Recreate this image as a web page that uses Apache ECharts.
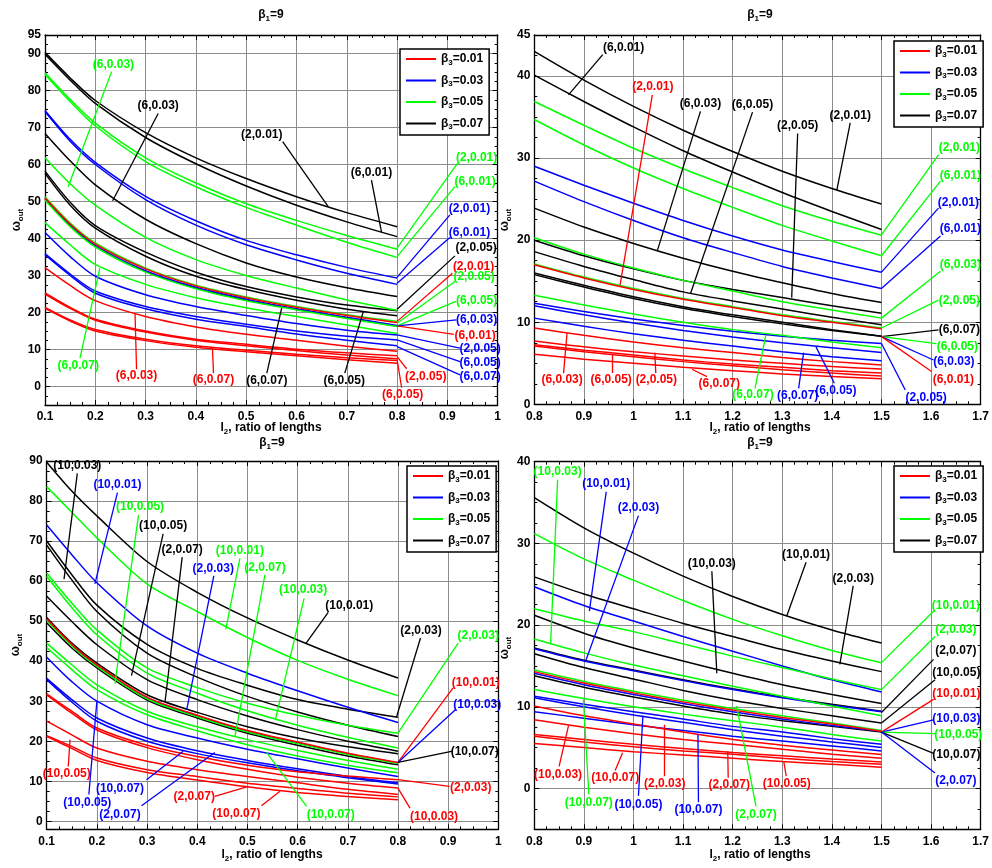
<!DOCTYPE html>
<html><head><meta charset="utf-8">
<script src="https://cdn.jsdelivr.net/npm/echarts@6/dist/echarts.min.js"></script>
<style>html,body{margin:0;padding:0;background:#fff}#c{width:992px;height:868px}</style>
</head><body><div id="c"></div>
<script>
// ---------------- DATA ----------------
const P1_X = [0.1, 0.15, 0.2, 0.3, 0.4, 0.5, 0.6, 0.7, 0.8];
const P1_BLACK = [
  [90.3, 83.4, 77.3, 68.6, 61.8, 56.2, 51.3, 47.0, 43.2],
  [89.8, 82.8, 76.5, 67.3, 60.2, 54.2, 49.0, 44.5, 40.5],
  [68.4, 61.0, 54.5, 45.2, 38.6, 33.4, 29.6, 26.7, 24.3],
  [58.2, 49.8, 43.5, 36.3, 30.9, 27.0, 24.2, 22.0, 20.5],
  [57.6, 49.0, 42.8, 35.2, 29.8, 26.2, 23.3, 20.9, 19.1],
  [50.6, 43.4, 37.9, 31.1, 26.6, 23.4, 20.9, 18.6, 16.3]
];
const P1_GREEN = [
  [84.8, 77.6, 71.2, 61.8, 55.0, 49.4, 44.9, 40.8, 37.1],
  [84.3, 77.0, 70.4, 60.8, 54.0, 48.4, 43.6, 39.0, 34.9],
  [61.8, 54.8, 49.0, 40.3, 34.3, 30.0, 26.6, 23.4, 20.6],
  [51.3, 44.2, 38.8, 32.0, 27.4, 24.2, 21.6, 19.4, 17.6],
  [50.4, 43.2, 37.7, 30.9, 26.4, 23.2, 20.7, 18.4, 16.2],
  [44.3, 38.3, 33.0, 27.6, 24.0, 21.3, 18.9, 16.6, 14.3]
];
const P1_BLUE = [
  [74.6, 66.8, 60.6, 51.4, 44.8, 39.5, 35.6, 32.2, 29.3],
  [74.3, 66.3, 60.0, 50.5, 43.6, 38.3, 34.2, 30.6, 27.6],
  [50.8, 43.6, 38.1, 31.3, 26.8, 23.6, 21.0, 18.7, 16.5],
  [41.6, 35.1, 29.8, 24.8, 21.6, 19.2, 17.0, 15.2, 13.9],
  [35.9, 30.4, 25.8, 21.6, 18.9, 16.8, 15.0, 13.6, 12.6],
  [35.6, 30.0, 25.2, 21.0, 18.2, 16.2, 14.2, 12.5, 11.0]
];
const P1_RED = [
  [51.0, 43.9, 38.5, 31.8, 27.2, 24.0, 21.4, 19.2, 17.3],
  [32.1, 27.3, 23.2, 18.9, 16.1, 14.1, 12.5, 10.9, 9.5],
  [25.3, 21.4, 18.2, 15.0, 12.8, 11.4, 10.1, 9.1, 8.3],
  [25.0, 21.1, 17.9, 14.7, 12.5, 11.0, 9.7, 8.5, 7.5],
  [21.4, 18.0, 15.4, 12.8, 11.0, 9.8, 8.7, 7.8, 7.0],
  [21.1, 17.7, 15.0, 12.4, 10.6, 9.4, 8.3, 7.2, 6.3]
];
const P2_X = [0.8, 0.9, 1.0, 1.1, 1.2, 1.3, 1.4, 1.5];
const P2_BLACK = [
  [43.0, 39.5, 36.3, 33.4, 30.8, 28.4, 26.3, 24.4],
  [40.1, 36.9, 33.8, 30.9, 28.3, 25.8, 23.5, 21.3],
  [23.9, 21.6, 19.6, 17.8, 16.2, 14.8, 13.5, 12.4],
  [20.0, 18.1, 16.5, 15.1, 14.0, 13.0, 12.0, 11.1],
  [18.6, 16.8, 15.2, 13.7, 12.6, 11.6, 10.6, 9.7],
  [16.0, 14.5, 13.1, 11.9, 10.9, 10.0, 9.1, 8.3],
  [15.8, 14.3, 12.9, 11.7, 10.7, 9.8, 9.0, 8.3]
];
const P2_GREEN = [
  [36.9, 34.0, 31.2, 28.7, 26.4, 24.2, 22.3, 20.6],
  [34.7, 31.6, 28.8, 26.3, 24.0, 21.8, 19.9, 18.1],
  [20.3, 18.3, 16.6, 15.1, 13.8, 12.5, 11.5, 10.5],
  [17.1, 15.5, 14.1, 12.9, 11.9, 10.9, 10.1, 9.3],
  [13.3, 12.1, 11.0, 10.0, 9.1, 8.4, 7.6, 6.9]
];
const P2_BLUE = [
  [29.0, 26.7, 24.5, 22.4, 20.5, 18.8, 17.4, 16.1],
  [27.2, 24.7, 22.4, 20.3, 18.5, 16.8, 15.4, 14.1],
  [12.3, 11.3, 10.4, 9.6, 8.9, 8.3, 7.8, 7.4],
  [12.0, 10.9, 9.9, 9.0, 8.2, 7.5, 6.9, 6.3],
  [10.5, 9.5, 8.6, 7.8, 7.1, 6.4, 5.8, 5.3]
];
const P2_RED = [
  [17.0, 15.4, 14.0, 12.8, 11.8, 10.8, 10.0, 9.2],
  [9.3, 8.4, 7.6, 6.9, 6.3, 5.7, 5.2, 4.8],
  [7.7, 7.0, 6.4, 5.9, 5.4, 5.0, 4.6, 4.3],
  [7.25, 6.6, 6.0, 5.4, 4.9, 4.5, 4.1, 3.8],
  [7.1, 6.4, 5.8, 5.2, 4.7, 4.2, 3.8, 3.45],
  [6.1, 5.5, 5.0, 4.5, 4.1, 3.7, 3.4, 3.1]
];
const P3_X = [0.1, 0.15, 0.2, 0.3, 0.4, 0.5, 0.6, 0.7, 0.8];
const P3_BLACK = [
  [89.7, 82.5, 76.3, 64.9, 57.2, 50.8, 45.3, 40.3, 35.8],
  [70.0, 61.6, 54.0, 44.2, 38.2, 34.0, 30.4, 28.0, 26.0],
  [69.0, 60.3, 52.4, 42.0, 36.0, 31.2, 27.3, 24.0, 21.2],
  [56.2, 49.9, 44.1, 35.4, 30.4, 26.3, 22.9, 20.0, 17.5],
  [50.9, 44.5, 39.5, 31.6, 27.2, 23.6, 20.8, 18.6, 16.9],
  [49.6, 43.3, 38.3, 30.3, 25.8, 22.0, 19.0, 16.3, 14.1]
];
const P3_GREEN = [
  [83.6, 77.2, 70.8, 59.3, 52.4, 45.9, 40.2, 35.5, 31.4],
  [62.0, 54.5, 47.8, 38.3, 33.4, 29.5, 26.5, 24.0, 22.0],
  [61.2, 53.4, 46.6, 37.0, 32.0, 27.6, 24.0, 21.0, 18.3],
  [50.2, 43.8, 38.7, 30.6, 26.1, 22.3, 19.4, 16.7, 14.5],
  [44.5, 39.1, 34.1, 27.5, 23.6, 20.4, 17.7, 15.2, 13.0],
  [43.4, 37.9, 32.9, 26.6, 22.6, 19.1, 16.3, 14.0, 12.1]
];
const P3_BLUE = [
  [74.0, 66.6, 59.6, 48.8, 42.0, 37.0, 32.6, 28.5, 24.7],
  [50.4, 44.0, 38.9, 30.8, 26.3, 22.5, 19.6, 16.9, 14.6],
  [41.0, 34.9, 30.0, 24.1, 20.8, 18.0, 15.6, 13.3, 11.2],
  [35.7, 30.4, 25.8, 20.8, 17.6, 15.2, 13.1, 11.2, 9.6],
  [35.4, 29.8, 25.0, 20.0, 16.9, 14.6, 12.6, 10.9, 9.3]
];
const P3_RED = [
  [50.6, 44.2, 39.1, 31.0, 26.5, 22.7, 19.8, 17.0, 14.7],
  [31.8, 27.5, 23.3, 19.0, 16.2, 14.0, 12.4, 11.3, 10.4],
  [31.6, 27.0, 22.8, 18.4, 15.4, 13.0, 11.0, 9.5, 8.3],
  [25.0, 21.6, 18.3, 15.0, 12.9, 11.2, 9.6, 8.0, 6.7],
  [21.4, 18.7, 15.8, 12.9, 11.2, 9.5, 8.2, 7.0, 6.1],
  [21.2, 18.2, 15.2, 12.2, 10.3, 8.6, 7.2, 6.2, 5.4]
];
const P4_X = [0.8, 0.9, 1.0, 1.1, 1.2, 1.3, 1.4, 1.5];
const P4_BLACK = [
  [35.6, 31.9, 28.8, 26.0, 23.5, 21.3, 19.4, 17.8],
  [25.9, 23.8, 22.0, 20.2, 18.6, 17.0, 15.6, 14.3],
  [21.2, 19.0, 17.2, 15.6, 14.1, 12.7, 11.5, 10.4],
  [17.2, 15.7, 14.5, 13.3, 12.2, 11.2, 10.3, 9.45],
  [16.5, 14.8, 13.4, 12.0, 10.8, 9.8, 8.9, 8.0],
  [13.8, 12.4, 11.2, 10.1, 9.1, 8.3, 7.6, 6.9]
];
const P4_GREEN = [
  [31.2, 28.1, 25.5, 23.0, 20.7, 18.7, 16.9, 15.4],
  [22.0, 20.5, 19.2, 17.7, 16.2, 14.8, 13.4, 12.1],
  [18.3, 16.6, 15.1, 13.8, 12.5, 11.3, 10.1, 8.9],
  [14.5, 13.1, 11.9, 10.8, 9.8, 8.9, 8.0, 7.1],
  [12.1, 11.0, 10.0, 9.1, 8.3, 7.5, 6.6, 5.8]
];
const P4_BLUE = [
  [24.7, 22.4, 20.5, 18.6, 16.8, 15.0, 13.3, 11.8],
  [17.1, 15.6, 14.4, 13.2, 12.1, 11.1, 10.2, 9.4],
  [14.1, 12.7, 11.5, 10.4, 9.4, 8.5, 7.7, 7.0],
  [11.3, 10.3, 9.4, 8.5, 7.6, 6.9, 6.1, 5.4],
  [11.1, 10.0, 9.0, 8.1, 7.2, 6.4, 5.7, 5.0],
  [9.4, 8.6, 7.8, 7.1, 6.4, 5.8, 5.2, 4.6]
];
const P4_RED = [
  [14.3, 12.9, 11.7, 10.6, 9.6, 8.7, 7.9, 7.0],
  [10.1, 8.9, 7.9, 6.9, 6.0, 5.3, 4.7, 4.15],
  [8.4, 7.5, 6.7, 6.0, 5.4, 4.8, 4.2, 3.7],
  [6.6, 6.0, 5.4, 4.9, 4.4, 4.0, 3.6, 3.25],
  [6.4, 5.7, 5.1, 4.6, 4.2, 3.7, 3.3, 2.95],
  [5.5, 5.0, 4.5, 4.1, 3.7, 3.3, 2.95, 2.6]
];

// annotations: [text, color, labelX, labelY, leaderX1, leaderY1, leaderX2, leaderY2]
const P1_NOTES = [
  ['(6,0.03)','g',0.236,86.9,0.2325,85.1,0.146,54.0],
  ['(6,0.03)','k',0.325,75.8,0.325,73.8,0.2345,50.2],
  ['(2,0.01)','k',0.531,68.0,0.5725,66.2,0.663,48.6],
  ['(6,0.01)','k',0.749,57.8,0.749,55.8,0.769,41.7],
  ['(6,0.07)','g',0.166,5.6,0.1696,7.65,0.209,32.0],
  ['(6,0.03)','r',0.282,2.9,0.282,4.7,0.279,19.8],
  ['(6,0.07)','r',0.435,1.8,0.435,3.6,0.433,10.1],
  ['(6,0.07)','k',0.541,1.5,0.541,3.6,0.5705,21.2],
  ['(6,0.05)','k',0.695,1.5,0.696,3.6,0.733,20.3],
  ['(2,0.05)','r',0.857,2.7,0.819,4.8,0.8,8.1],
  ['(6,0.05)','r',0.811,-2.1,0.809,-0.3,0.8,7.3],
  ['(2,0.01)','g',0.958,61.9,0.92,60.3,0.8,37.4],
  ['(6,0.01)','g',0.955,55.4,0.915,54.0,0.8,35.1],
  ['(2,0.01)','b',0.944,48.0,0.905,46.4,0.8,29.5],
  ['(6,0.01)','b',0.944,41.7,0.905,40.3,0.8,27.9],
  ['(2,0.05)','k',0.957,37.6,0.915,35.3,0.8,20.9],
  ['(2,0.01)','r',0.952,32.4,0.91,30.6,0.8,17.6],
  ['(2,0.05)','g',0.953,29.7,0.915,28.4,0.8,17.1],
  ['(6,0.05)','g',0.958,23.1,0.917,23.0,0.8,16.4],
  ['(6,0.03)','b',0.958,18.0,0.918,18.0,0.8,16.4],
  ['(6,0.01)','r',0.955,13.8,0.913,14.1,0.8,16.4],
  ['(2,0.05)','b',0.965,10.1,0.925,10.35,0.8,13.95],
  ['(6,0.05)','b',0.965,6.5,0.925,6.75,0.8,12.6],
  ['(6,0.07)','b',0.965,2.7,0.925,3.15,0.8,10.8]
];
const P2_NOTES = [
  ['(6,0.01)','k',0.98,43.4,0.938,42.6,0.869,37.7],
  ['(2,0.01)','r',1.039,38.7,1.038,37.7,0.973,14.55],
  ['(6,0.03)','k',1.135,36.6,1.135,35.7,1.048,18.7],
  ['(6,0.05)','k',1.24,36.5,1.24,35.6,1.115,13.5],
  ['(2,0.05)','k',1.331,33.9,1.331,33.0,1.319,13.0],
  ['(2,0.01)','k',1.437,35.2,1.437,34.3,1.41,26.1],
  ['(6,0.03)','r',0.856,2.97,0.859,3.8,0.866,8.66],
  ['(6,0.05)','r',0.955,2.97,0.957,3.8,0.957,6.1],
  ['(2,0.05)','r',1.046,2.97,1.045,3.8,1.043,6.3],
  ['(6,0.07)','r',1.173,2.56,1.148,3.37,1.118,4.27],
  ['(6,0.07)','g',1.241,1.14,1.245,1.95,1.267,8.45],
  ['(6,0.07)','b',1.331,1.0,1.333,1.95,1.343,6.3],
  ['(6,0.05)','b',1.408,1.67,1.405,2.56,1.368,7.0],
  ['(2,0.05)','b',1.59,0.8,1.548,1.75,1.5,7.4],
  ['(2,0.01)','g',1.657,31.3,1.615,30.4,1.5,20.65],
  ['(6,0.01)','g',1.659,27.9,1.619,27.2,1.5,18.1],
  ['(2,0.01)','b',1.655,24.6,1.615,23.9,1.5,16.1],
  ['(6,0.01)','b',1.659,21.4,1.619,20.5,1.5,14.1],
  ['(6,0.03)','g',1.659,17.0,1.619,16.2,1.5,10.5],
  ['(2,0.05)','g',1.657,12.6,1.615,12.7,1.5,9.3],
  ['(6,0.07)','k',1.657,9.07,1.615,9.07,1.5,8.25],
  ['(6,0.05)','g',1.653,7.0,1.611,7.4,1.5,8.25],
  ['(6,0.03)','b',1.646,5.2,1.605,5.4,1.5,8.25],
  ['(6,0.01)','r',1.645,2.97,1.601,4.0,1.5,8.25]
];
const P3_NOTES = [
  ['(10,0.03)','k',0.161,88.8,0.161,86.9,0.1345,60.5],
  ['(10,0.01)','b',0.241,84.0,0.241,82.1,0.196,59.3],
  ['(10,0.05)','g',0.286,78.6,0.283,76.5,0.236,34.4],
  ['(10,0.05)','k',0.332,73.8,0.332,71.8,0.269,36.4],
  ['(2,0.07)','k',0.370,67.8,0.370,66.0,0.336,30.0],
  ['(2,0.03)','b',0.432,63.2,0.433,61.3,0.379,27.9],
  ['(10,0.01)','g',0.485,67.6,0.485,65.7,0.457,48.0],
  ['(2,0.07)','g',0.535,63.4,0.535,61.6,0.475,21.0],
  ['(10,0.03)','g',0.611,57.8,0.613,55.7,0.556,25.5],
  ['(10,0.01)','k',0.703,53.8,0.661,52.2,0.617,44.5],
  ['(2,0.03)','k',0.846,47.6,0.845,45.8,0.797,26.0],
  ['(2,0.03)','g',0.96,46.3,0.92,44.5,0.8,22.0],
  ['(10,0.01)','r',0.955,34.7,0.91,33.3,0.8,14.7],
  ['(10,0.03)','b',0.958,29.1,0.915,27.9,0.8,14.7],
  ['(10,0.07)','k',0.953,17.5,0.909,17.5,0.8,14.7],
  ['(2,0.03)','r',0.945,8.5,0.903,8.7,0.8,10.4],
  ['(10,0.03)','r',0.872,1.25,0.824,3.3,0.8,8.3],
  ['(10,0.05)','r',0.14,11.8,0.143,13.7,0.1465,20.4],
  ['(10,0.05)','b',0.181,4.7,0.184,6.7,0.2,30.0],
  ['(10,0.07)','b',0.246,8.2,0.299,10.4,0.372,17.5],
  ['(2,0.07)','b',0.246,1.7,0.289,3.9,0.435,17.2],
  ['(2,0.07)','r',0.394,6.2,0.435,6.2,0.502,8.7],
  ['(10,0.07)','r',0.478,1.9,0.528,3.9,0.565,7.5],
  ['(10,0.07)','g',0.666,1.7,0.618,3.7,0.538,17.2]
];
const P4_NOTES = [
  ['(10,0.03)','g',0.847,38.8,0.847,37.8,0.833,17.8],
  ['(10,0.01)','b',0.945,37.3,0.945,36.3,0.911,21.7],
  ['(2,0.03)','b',1.01,34.4,1.01,33.4,0.903,15.5],
  ['(10,0.03)','k',1.158,27.5,1.158,26.6,1.168,14.1],
  ['(10,0.01)','k',1.348,28.6,1.348,27.7,1.309,21.1],
  ['(2,0.03)','k',1.443,25.7,1.443,24.8,1.416,15.2],
  ['(10,0.03)','r',0.848,1.7,0.85,2.7,0.869,7.7],
  ['(10,0.07)','r',0.963,1.3,0.963,2.2,0.978,4.36],
  ['(2,0.03)','r',1.063,0.6,1.063,1.5,1.063,7.8],
  ['(2,0.07)','r',1.193,0.5,1.191,1.3,1.19,4.56],
  ['(10,0.05)','r',1.309,0.6,1.308,1.5,1.303,3.3],
  ['(10,0.07)','g',0.91,-1.7,0.91,-0.7,0.899,10.9],
  ['(10,0.05)','b',1.01,-2.0,1.01,-0.9,1.019,8.9],
  ['(10,0.07)','b',1.131,-2.6,1.131,-1.7,1.13,6.6],
  ['(2,0.07)','g',1.247,-3.2,1.247,-2.2,1.208,10.1],
  ['(10,0.01)','g',1.65,22.4,1.605,21.7,1.5,15.4],
  ['(2,0.03)','g',1.65,19.4,1.608,18.6,1.5,12.1],
  ['(2,0.07)','k',1.65,16.9,1.605,15.8,1.5,9.3],
  ['(10,0.05)','k',1.651,14.2,1.608,13.3,1.5,8.0],
  ['(10,0.01)','r',1.651,11.6,1.605,10.9,1.5,6.9],
  ['(10,0.03)','b',1.651,8.5,1.605,8.4,1.5,6.9],
  ['(10,0.05)','g',1.655,6.6,1.608,6.7,1.5,6.9],
  ['(10,0.07)','k',1.651,4.15,1.605,4.3,1.5,6.9],
  ['(2,0.07)','b',1.65,0.9,1.608,1.9,1.5,6.9]
];

const P1_YTICKS = [0,10,20,30,40,50,60,70,80,90,95];
const P2_YTICKS = [0,10,20,30,40,45];
const P3_YTICKS = [0,10,20,30,40,50,60,70,80,90];
const P4_YTICKS = [0,10,20,30,40];
const LEGEND_NAMES = ['β3=0.01','β3=0.03','β3=0.05','β3=0.07'];

// ---------------- STYLE / LAYOUT ----------------
const FF = '"Liberation Sans", Arial, Helvetica, sans-serif';
const COLORS = {r:'#ff0000', b:'#0000ff', g:'#00ff00', k:'#000000'};
const CNAME = {r:LEGEND_NAMES[0], b:LEGEND_NAMES[1], g:LEGEND_NAMES[2], k:LEGEND_NAMES[3]};
const ORDER = ['k','b','g','r'];
const GRIDLINE = {color:'#8c8c8c', width:1};
const RICH = {
  b:{fontSize:12, fontWeight:'bold', fontFamily:FF, fill:'#000', color:'#000', lineHeight:15},
  s:{fontSize:8, fontWeight:'bold', fontFamily:FF, fill:'#000', color:'#000', verticalAlign:'bottom', lineHeight:8}
};

const PANELS = [
  {grid:{left:45, top:35, width:452.7, height:370}, xr:[0.1,1.0], yr:[-5,95], yt:P1_YTICKS, X:P1_X,
   curves:{r:P1_RED,b:P1_BLUE,g:P1_GREEN,k:P1_BLACK}, notes:P1_NOTES, leg:[400,49], title:[271,15], xname:[271,428], yname:[17,220]},
  {grid:{left:534.3, top:35, width:452.4, height:369.3}, xr:[0.8,1.7], yr:[0,45], yt:P2_YTICKS, X:P2_X,
   curves:{r:P2_RED,b:P2_BLUE,g:P2_GREEN,k:P2_BLACK}, notes:P2_NOTES, leg:[894,41], title:[760,15], xname:[760,428], yname:[505,220]},
  {grid:{left:46.7, top:461, width:451.6, height:368.3}, xr:[0.1,1.0], yr:[-2,90], yt:P3_YTICKS, X:P3_X,
   curves:{r:P3_RED,b:P3_BLUE,g:P3_GREEN,k:P3_BLACK}, notes:P3_NOTES, leg:[407,466], title:[272,443], xname:[272,855], yname:[16,645]},
  {grid:{left:534.3, top:461.7, width:452.4, height:367.6}, xr:[0.8,1.7], yr:[-5,40], yt:P4_YTICKS, X:P4_X,
   curves:{r:P4_RED,b:P4_BLUE,g:P4_GREEN,k:P4_BLACK}, notes:P4_NOTES, leg:[894,466], title:[760,443], xname:[760,855], yname:[505,648]}
];

function minorTicks(lo, hi, step, majors) {
  const out = [];
  const start = Math.ceil(lo / step - 1e-9) * step;
  for (let v = start; v <= hi + 1e-9; v += step) {
    const r = Math.round(v * 1000) / 1000;
    if (r <= lo + 1e-9 || r >= hi - 1e-9) continue;
    if (majors.some(m => Math.abs(m - r) < 1e-9)) continue;
    out.push(r);
  }
  return out;
}

const grids = [], xAxes = [], yAxes = [], series = [], legends = [], graphics = [];
const LABEL = {fontSize:12, fontWeight:'bold', color:'#000', fontFamily:FF};
PANELS.forEach((P, p) => {
  grids.push(Object.assign({show:false, containLabel:false}, P.grid));
  const axLine = {show:true, onZero:false, lineStyle:{color:'#000', width:1.3}};
  const tick = {show:true, inside:true, length:5, lineStyle:{color:'#000', width:1}};
  const mtick = {show:true, splitNumber:4, length:3, lineStyle:{color:'#000', width:1}};
  const xbase = {type:'value', gridIndex:p, min:P.xr[0], max:P.xr[1], interval:0.1, axisLine:axLine, axisTick:tick, minorTick:mtick};
  xAxes.push(Object.assign({}, xbase, {position:'bottom',
    axisLabel:Object.assign({}, LABEL, {margin:6, formatter:v => String(+(+v).toFixed(2))}),
    splitLine:{show:true, lineStyle:GRIDLINE}}));
  xAxes.push(Object.assign({}, xbase, {position:'top', axisLabel:{show:false}, splitLine:{show:false}}));
  const ym = minorTicks(P.yr[0], P.yr[1], 2.5, P.yt);
  const ybase = {type:'value', gridIndex:p, min:P.yr[0], max:P.yr[1]};
  yAxes.push(Object.assign({}, ybase, {position:'left', axisLine:axLine,
    axisTick:Object.assign({}, tick, {customValues:P.yt}),
    axisLabel:Object.assign({}, LABEL, {margin:4, customValues:P.yt}),
    splitLine:{show:true, lineStyle:GRIDLINE}}));
  yAxes.push(Object.assign({}, ybase, {position:'right', axisLine:axLine,
    axisTick:Object.assign({}, tick, {customValues:P.yt}),
    axisLabel:{show:false, customValues:P.yt}, splitLine:{show:false}}));
  ['left','right'].forEach(pos => {
    yAxes.push(Object.assign({}, ybase, {position:pos, axisLine:{show:false, onZero:false},
      axisTick:{show:true, inside:true, length:3, lineStyle:{color:'#000', width:1}, customValues:ym},
      axisLabel:{show:false, customValues:ym}, splitLine:{show:false}}));
  });

  ORDER.forEach(c => {
    P.curves[c].forEach(vals => {
      series.push({type:'line', name:CNAME[c], xAxisIndex:2*p, yAxisIndex:4*p,
        data:P.X.map((x, i) => [x, vals[i]]), showSymbol:false, symbol:'none',
        smooth:0.3, lineStyle:{color:COLORS[c], width:1.5}, itemStyle:{color:COLORS[c]},
        silent:true, animation:false, z:2});
    });
  });

  series.push({type:'lines', coordinateSystem:'cartesian2d', xAxisIndex:2*p, yAxisIndex:4*p,
    polyline:false, silent:true, animation:false, z:4,
    lineStyle:{width:1.3, opacity:1, curveness:0},
    data:P.notes.map(n => ({coords:[[n[4], n[5]], [n[6], n[7]]], lineStyle:{color:COLORS[n[1]], width:1.3, opacity:1}}))});

  series.push({type:'scatter', xAxisIndex:2*p, yAxisIndex:4*p, symbolSize:0, silent:true, animation:false, z:5,
    itemStyle:{opacity:1},
    label:{show:true, opacity:1},
    data:P.notes.map(n => ({value:[n[2], n[3]], itemStyle:{opacity:1, color:COLORS[n[1]]},
      label:{show:true, position:'inside', formatter:n[0], opacity:1,
      color:COLORS[n[1]], fontSize:12, fontWeight:'bold', fontFamily:FF, textBorderWidth:0}}))});

  legends.push({left:P.leg[0], top:P.leg[1], orient:'vertical', data:LEGEND_NAMES, icon:'rect',
    itemWidth:30, itemHeight:2, itemGap:8, padding:[4,6,4,6], borderColor:'#000', borderWidth:1.5,
    backgroundColor:'#fff', selectedMode:false, z:20,
    formatter:name => { const parts = name.split('='); return '{b|β}{s|3}{b|=' + parts[1] + '}'; },
    textStyle:{rich:RICH}});

  graphics.push({type:'text', x:P.title[0], y:P.title[1], z:30,
    style:{text:'{b|β}{s|1}{b|=9}', rich:RICH, align:'center', verticalAlign:'middle'}});
  graphics.push({type:'text', x:P.xname[0], y:P.xname[1], z:30,
    style:{text:'{b|l}{s|2}{b|, ratio of lengths}', rich:RICH, align:'center', verticalAlign:'middle'}});
  graphics.push({type:'text', x:P.yname[0], y:P.yname[1], rotation:Math.PI / 2, z:30,
    style:{text:'{b|ω}{s|out}', rich:RICH, align:'center', verticalAlign:'middle'}});
});

const chart = echarts.init(document.getElementById('c'), null, {renderer:'canvas'});
chart.setOption({
  animation:false,
  backgroundColor:'#fff',
  grid:grids, xAxis:xAxes, yAxis:yAxes, series:series, legend:legends, graphic:graphics
});
</script>
</body></html>
